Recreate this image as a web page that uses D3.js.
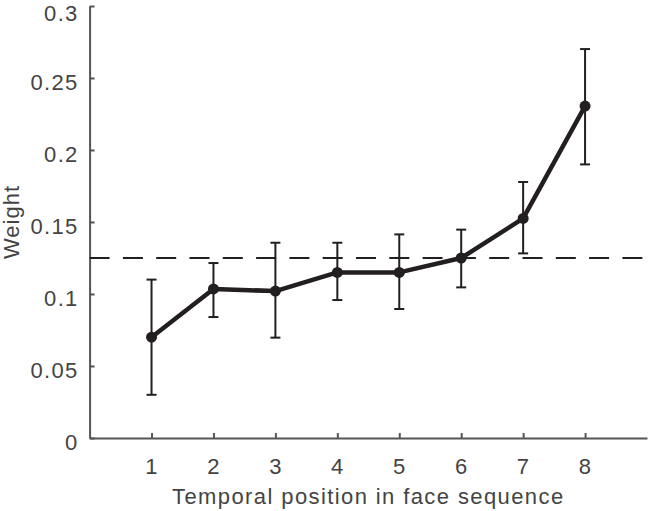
<!DOCTYPE html>
<html><head><meta charset="utf-8">
<script src="https://cdn.jsdelivr.net/npm/d3@7"></script>
<style>body{margin:0;background:#fff}</style>
</head><body>
<svg id="c" width="649" height="511"></svg>
<script>
const positions = [1,2,3,4,5,6,7,8];
const weights = [0.070, 0.1035, 0.102, 0.115, 0.115, 0.125, 0.1525, 0.2305];
const errLow = [0.030, 0.084, 0.0697, 0.0958, 0.0896, 0.1046, 0.1282, 0.190];
const errHigh = [0.110, 0.1215, 0.1356, 0.1356, 0.1414, 0.1447, 0.1778, 0.2701];
const yTicks = [0, 0.05, 0.1, 0.15, 0.2, 0.25, 0.3];
const xTicks = [1,2,3,4,5,6,7,8];
const chanceLevel = 0.125;

const svg = d3.select("#c");
const x = d3.scaleLinear().domain([0, 9]).range([89.6, 647]);
const y = d3.scaleLinear().domain([0, 0.3]).range([438, 6]);
const axisColor = "#555";
const textColor = "#444";
const font = "'Liberation Sans', Arial, Helvetica, sans-serif";

// axes
const yAxis = svg.append("g").attr("transform", `translate(${x(0)},0)`)
  .call(d3.axisLeft(y).tickValues(yTicks).tickFormat(d => String(+d.toFixed(2))).tickSizeInner(-5).tickSizeOuter(0).tickPadding(11));
const xAxis = svg.append("g").attr("transform", `translate(0,${y(0)})`)
  .call(d3.axisBottom(x).tickValues(xTicks).tickFormat(d3.format("d")).tickSizeInner(-5).tickSizeOuter(0).tickPadding(20));
[yAxis, xAxis].forEach(a => {
  a.select(".domain").attr("stroke", axisColor).attr("stroke-width", 2);
  a.selectAll(".tick line").attr("stroke", axisColor).attr("stroke-width", 2);
  a.selectAll(".tick text").attr("fill", textColor).style("font-family", font).style("font-size", "22px").style("letter-spacing", "1.3px");
});
yAxis.selectAll(".tick text").attr("dy", d => d === 0.3 ? "0.66em" : "0.5em");

// dashed chance line
svg.append("line")
  .attr("x1", x(0)).attr("x2", 649)
  .attr("y1", y(chanceLevel)).attr("y2", y(chanceLevel))
  .attr("stroke", "#231f20").attr("stroke-width", 2)
  .attr("stroke-dasharray", "20,13.3");

// error bars
const data = positions.map((p, i) => ({p, w: weights[i], lo: errLow[i], hi: errHigh[i]}));
const eb = svg.append("g").attr("stroke", "#231f20").attr("stroke-width", 2);
data.forEach(d => {
  eb.append("line").attr("x1", x(d.p)).attr("x2", x(d.p)).attr("y1", y(d.lo)).attr("y2", y(d.hi));
  eb.append("line").attr("x1", x(d.p) - 5).attr("x2", x(d.p) + 5).attr("y1", y(d.lo)).attr("y2", y(d.lo));
  eb.append("line").attr("x1", x(d.p) - 5).attr("x2", x(d.p) + 5).attr("y1", y(d.hi)).attr("y2", y(d.hi));
});

// line
svg.append("path").datum(data)
  .attr("fill", "none").attr("stroke", "#231f20").attr("stroke-width", 4.5)
  .attr("stroke-linejoin", "round")
  .attr("d", d3.line().x(d => x(d.p)).y(d => y(d.w)));

svg.append("g").selectAll("circle").data(data).join("circle")
  .attr("cx", d => x(d.p)).attr("cy", d => y(d.w)).attr("r", 5.5).attr("fill", "#231f20");

// labels
svg.append("text").attr("x", x(4.5)).attr("y", 504).attr("text-anchor", "middle")
  .attr("fill", textColor).style("font-family", font).style("font-size", "22px").style("letter-spacing", "1.4px")
  .text("Temporal position in face sequence");
svg.append("text").attr("transform", `translate(19,${y(0.15)}) rotate(-90)`).attr("text-anchor", "middle")
  .attr("fill", textColor).style("font-family", font).style("font-size", "22px").style("letter-spacing", "1px")
  .text("Weight");
</script>
</body></html>
